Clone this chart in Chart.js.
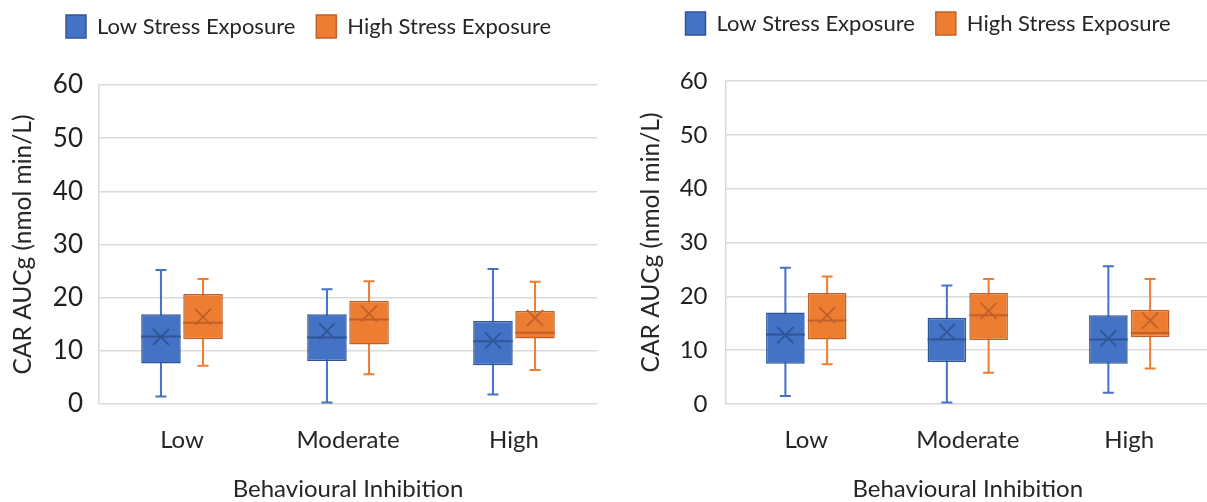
<!DOCTYPE html>
<html><head><meta charset="utf-8">
<script src="https://cdn.jsdelivr.net/npm/chart.js@4.4.1/dist/chart.umd.min.js"></script>
<style>
html,body{margin:0;padding:0;background:#fff;overflow:hidden;width:1207px;height:502px;position:relative;}
.wrap{position:absolute;top:0;height:502px;}
#wa{left:0;width:612px;}
#wb{left:612px;width:600px;}
canvas{display:block;}
</style></head><body>
<div class="wrap" id="wa"><canvas id="ca" width="612" height="502"></canvas></div>
<div class="wrap" id="wb"><canvas id="cb" width="600" height="502"></canvas></div>
<script>
// ---- data ----
const categories = ['Low', 'Moderate', 'High'];
const seriesNames = ['Low Stress Exposure', 'High Stress Exposure'];
const xTitle = 'Behavioural Inhibition';
const yTitle = 'CAR AUCg (nmol min/L)';
const yTickMin = 0, yTickMax = 60, yTickStep = 10;

// left panel
const aLowMin    = [1.4, 0.3, 1.8];
const aLowQ1     = [7.6, 8.1, 7.3];
const aLowMedian = [12.7, 12.5, 11.8];
const aLowQ3     = [16.9, 16.9, 15.6];
const aLowMax    = [25.2, 21.6, 25.4];
const aLowMean   = [12.6, 13.7, 11.9];
const aHighMin    = [7.2, 5.6, 6.4];
const aHighQ1     = [12.2, 11.2, 12.3];
const aHighMedian = [15.3, 15.9, 13.4];
const aHighQ3     = [20.7, 19.4, 17.5];
const aHighMax    = [23.5, 23.1, 23.0];
const aHighMean   = [16.4, 17.0, 16.2];

// right panel
const bLowMin    = [1.5, 0.3, 2.1];
const bLowQ1     = [7.5, 7.8, 7.5];
const bLowMedian = [12.9, 12.0, 12.0];
const bLowQ3     = [17.0, 16.0, 16.5];
const bLowMax    = [25.3, 22.0, 25.6];
const bLowMean   = [12.8, 13.4, 12.2];
const bHighMin    = [7.4, 5.8, 6.6];
const bHighQ1     = [12.0, 11.9, 12.4];
const bHighMedian = [15.5, 16.5, 13.2];
const bHighQ3     = [20.6, 20.6, 17.5];
const bHighMax    = [23.7, 23.2, 23.2];
const bHighMean   = [16.5, 17.3, 15.5];

// ---- styles ----
const FONT = 'Lato, "Open Sans", "DejaVu Sans", sans-serif';
const BLUE = '#4472C4', BLUE_DARK = '#2F5597';
const ORANGE = '#ED7D31', ORANGE_DARK = '#C0602A';
const GRID = '#d9d9d9';

const boxPlotPlugin = {
  id: 'boxPlot',
  beforeDatasetsDraw(chart) {
    const {ctx} = chart; const ys = chart.scales.y;
    chart.data.datasets.forEach((ds, i) => {
      const meta = chart.getDatasetMeta(i);
      meta.data.forEach((bar, j) => {
        const x = bar.x, cap = 5.5;
        const yMin = ys.getPixelForValue(ds.whiskerMin[j]);
        const yMax = ys.getPixelForValue(ds.whiskerMax[j]);
        ctx.save();
        ctx.strokeStyle = ds.whiskerColor; ctx.lineWidth = 2;
        ctx.beginPath();
        ctx.moveTo(x, yMin); ctx.lineTo(x, yMax);
        ctx.moveTo(x - cap, yMin); ctx.lineTo(x + cap, yMin);
        ctx.moveTo(x - cap, yMax); ctx.lineTo(x + cap, yMax);
        ctx.stroke();
        ctx.restore();
      });
    });
  },
  afterDatasetsDraw(chart) {
    const {ctx} = chart; const ys = chart.scales.y;
    chart.data.datasets.forEach((ds, i) => {
      const meta = chart.getDatasetMeta(i);
      meta.data.forEach((bar, j) => {
        const x = bar.x, hw = bar.width / 2;
        const yMed = ys.getPixelForValue(ds.medians[j]);
        const yMean = ys.getPixelForValue(ds.means[j]);
        ctx.save();
        ctx.strokeStyle = ds.borderColor; ctx.lineWidth = 2;
        ctx.beginPath();
        ctx.moveTo(x - hw, yMed); ctx.lineTo(x + hw, yMed);
        ctx.stroke();
        const s = 8;
        ctx.lineWidth = 1.8;
        ctx.beginPath();
        ctx.moveTo(x - s, yMean - s); ctx.lineTo(x + s, yMean + s);
        ctx.moveTo(x - s, yMean + s); ctx.lineTo(x + s, yMean - s);
        ctx.stroke();
        ctx.restore();
      });
    });
  }
};

const legendPlace = {
  id: 'legendPlace',
  afterLayout(chart, args, opts) {
    const lg = chart.legend; if (!lg) return;
    const p = chart.options.plugins.legend.labels.padding;
    const dx = opts.x - p - lg.left, dy = opts.y - p - lg.top;
    lg.left += dx; lg.right += dx; lg.top += dy; lg.bottom += dy;
  }
};

function makeDataset(label, q1, q3, mins, maxs, meds, means, fill, dark) {
  return {
    label,
    data: q1.map((v, i) => [v, q3[i]]),
    backgroundColor: fill,
    borderColor: dark,
    borderWidth: 1.5,
    borderSkipped: false,
    whiskerMin: mins, whiskerMax: maxs, medians: meds, means: means,
    whiskerColor: fill
  };
}

function makeChart(id, g, sets) {
  return new Chart(document.getElementById(id), {
    type: 'bar',
    data: { labels: categories, datasets: sets },
    plugins: [boxPlotPlugin, legendPlace],
    options: {
      responsive: false, animation: false,
      devicePixelRatio: 1,
      datasets: { bar: { categoryPercentage: g.cp, barPercentage: g.bp } },
      layout: { padding: { left: 0, right: g.W - g.areaRight, top: g.padTop, bottom: 0 } },
      plugins: {
        tooltip: { enabled: false },
        legend: {
          display: true, position: 'top', align: 'start',
          labels: { boxWidth: 20, boxHeight: 23, padding: 21, color: '#262626',
                    font: { family: FONT, size: 22 } }
        },
        legendPlace: { x: g.legX, y: g.legY }
      },
      scales: {
        x: {
          grid: { display: false, drawTicks: false },
          border: { display: false },
          ticks: { color: '#262626', padding: g.xTickPad, font: { family: FONT, size: 24 } },
          title: { display: true, text: xTitle, color: '#262626',
                   font: { family: FONT, size: 24 }, padding: { top: 0, bottom: g.xTitlePad } },
          afterFit(s) { s.height = g.H - g.areaBottom; }
        },
        y: {
          min: yTickMin, max: yTickMax,
          ticks: { stepSize: yTickStep, color: '#1f1f1f', padding: g.yTickPad,
                   font: { family: FONT, size: g.yTickSize } },
          grid: { color: GRID, lineWidth: 1.5, drawTicks: false },
          border: { display: true, color: GRID, width: 1.5 },
          title: { display: true, text: yTitle, color: '#262626',
                   font: { family: FONT, size: 24.5 }, padding: { top: g.yTitlePad, bottom: 0 } },
          afterFit(s) { s.width = g.areaLeft; }
        }
      }
    }
  });
}

makeChart('ca', { W: 612, H: 502, areaLeft: 99, areaRight: 597, areaBottom: 404, padTop: 31,
  cp: 0.507, bp: 0.94, legX: 66, legY: 15, xTickPad: 22, xTitlePad: -2, yTickPad: 16, yTickSize: 26, yTitlePad: 8 },
  [ makeDataset(seriesNames[0], aLowQ1, aLowQ3, aLowMin, aLowMax, aLowMedian, aLowMean, BLUE, BLUE_DARK),
    makeDataset(seriesNames[1], aHighQ1, aHighQ3, aHighMin, aHighMax, aHighMedian, aHighMean, ORANGE, ORANGE_DARK) ]);

makeChart('cb', { W: 600, H: 502, areaLeft: 113.5, areaRight: 598, areaBottom: 404, padTop: 27,
  cp: 0.517, bp: 0.925, legX: 73.5, legY: 12, xTickPad: 22, xTitlePad: -2, yTickPad: 18, yTickSize: 24, yTitlePad: 24.4 },
  [ makeDataset(seriesNames[0], bLowQ1, bLowQ3, bLowMin, bLowMax, bLowMedian, bLowMean, BLUE, BLUE_DARK),
    makeDataset(seriesNames[1], bHighQ1, bHighQ3, bHighMin, bHighMax, bHighMedian, bHighMean, ORANGE, ORANGE_DARK) ]);
</script>
</body></html>
